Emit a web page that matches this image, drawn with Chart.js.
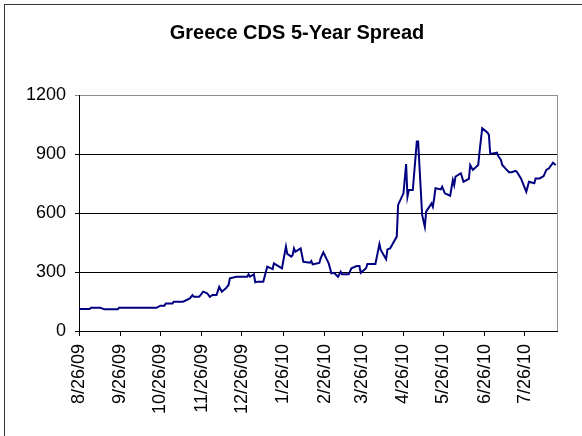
<!DOCTYPE html>
<html>
<head>
<meta charset="utf-8">
<script src="https://cdn.jsdelivr.net/npm/chart.js@4/dist/chart.umd.min.js"></script>
<style>
  html, body { margin: 0; padding: 0; background: #fff; }
  #wrap { position: relative; width: 582px; height: 436px; }
</style>
</head>
<body>
<div id="wrap"><canvas id="c" width="582" height="436"></canvas></div>
<script>
const chartTitle = "Greece CDS 5-Year Spread";
const dates = [
  "8/26/09","9/3/09","9/4/09","9/11/09","9/14/09","9/24/09","9/25/09","10/23/09","10/26/09","10/29/09",
  "10/30/09","11/4/09","11/5/09","11/12/09","11/17/09","11/19/09","11/20/09","11/24/09","11/27/09","11/30/09",
  "12/2/09","12/4/09","12/7/09","12/9/09","12/11/09","12/14/09","12/16/09","12/17/09","12/22/09","12/30/09",
  "12/31/09","1/1/10","1/4/10","1/5/10","1/7/10","1/11/10","1/14/10","1/18/10","1/19/10","1/25/10",
  "1/28/10","1/29/10","2/1/10","2/2/10","2/3/10","2/4/10","2/8/10","2/10/10","2/15/10","2/16/10",
  "2/17/10","2/22/10","2/23/10","2/25/10","3/1/10","3/3/10","3/5/10","3/8/10","3/10/10","3/11/10",
  "3/16/10","3/18/10","3/22/10","3/24/10","3/25/10","3/29/10","3/30/10","4/5/10","4/8/10","4/9/10",
  "4/13/10","4/14/10","4/16/10","4/21/10","4/22/10","4/26/10","4/28/10","4/29/10","4/30/10","5/3/10",
  "5/6/10","5/7/10","5/10/10","5/12/10","5/13/10","5/17/10","5/18/10","5/19/10","5/20/10","5/24/10",
  "5/25/10","5/27/10","5/31/10","6/2/10","6/3/10","6/4/10","6/8/10","6/10/10","6/14/10","6/15/10",
  "6/17/10","6/21/10","6/22/10","6/24/10","6/28/10","6/29/10","6/30/10","7/5/10","7/6/10","7/8/10",
  "7/9/10","7/12/10","7/14/10","7/16/10","7/19/10","7/20/10","7/23/10","7/27/10","7/29/10","8/2/10",
  "8/3/10","8/6/10","8/9/10","8/11/10","8/13/10","8/16/10","8/18/10"
];
const spread = [
  112,112,118,118,110,110,118,118,129,129,
  140,140,149,149,166,183,174,174,200,192,
  174,183,183,225,200,217,234,268,276,276,
  288,276,288,248,251,251,327,315,344,319,
  429,392,378,386,420,403,420,352,347,356,
  339,346,370,400,344,293,296,276,302,288,
  288,319,330,330,296,319,341,341,442,412,
  365,415,420,480,641,700,849,683,717,717,
  963,963,590,530,607,649,632,675,726,720,
  734,700,688,768,742,785,802,759,773,844,
  819,844,912,1031,1008,997,900,907,890,870,
  844,822,807,807,814,809,776,708,759,751,
  776,776,788,819,827,856,844
];
const xTickLabels = ["8/26/09","9/26/09","10/26/09","11/26/09","12/26/09","1/26/10","2/26/10","3/26/10","4/26/10","5/26/10","6/26/10","7/26/10"];
const xStart = "8/26/09";
const xEnd = "8/19/10";
const yTicks = [0, 300, 600, 900, 1200];

function dayOf(s) {
  const p = s.split('/').map(Number);
  const q = xStart.split('/').map(Number);
  return (Date.UTC(2000 + p[2], p[0] - 1, p[1]) - Date.UTC(2000 + q[2], q[0] - 1, q[1])) / 86400000;
}

const FONT = "'Liberation Sans', Arial, sans-serif";

const frame = {
  id: 'frame',
  beforeDraw(chart) {
    const ctx = chart.ctx;
    ctx.save();
    ctx.fillStyle = '#fff';
    ctx.fillRect(0, 0, chart.width, chart.height);
    ctx.strokeStyle = '#333';
    ctx.lineWidth = 1;
    ctx.strokeRect(4.5, 4.5, 600, 500);
    const a = chart.chartArea;
    ctx.strokeStyle = '#8c8c8c';
    ctx.beginPath();
    ctx.moveTo(Math.round(a.right) + 0.5, a.top);
    ctx.lineTo(Math.round(a.right) + 0.5, a.bottom);
    ctx.stroke();
    ctx.restore();
  }
};

new Chart(document.getElementById('c'), {
  type: 'line',
  data: {
    datasets: [{
      data: dates.map((d, i) => ({ x: dayOf(d), y: spread[i] })),
      borderColor: '#000080',
      borderWidth: 2,
      pointRadius: 0,
      tension: 0,
      fill: false
    }]
  },
  options: {
    responsive: false,
    animation: false,
    layout: { padding: { left: 12, right: 0, top: 0, bottom: 0 } },
    plugins: {
      legend: { display: false },
      tooltip: { enabled: false },
      title: {
        display: true,
        text: chartTitle,
        color: '#000',
        font: { family: FONT, size: 20, weight: 'bold' },
        padding: { top: 21, bottom: 50 }
      }
    },
    scales: {
      x: {
        type: 'linear',
        min: 0,
        max: dayOf(xEnd),
        afterBuildTicks: s => { s.ticks = xTickLabels.map(t => ({ value: dayOf(t) })); },
        afterFit: s => { s.height = 105; },
        ticks: {
          autoSkip: false,
          minRotation: 90,
          maxRotation: 90,
          padding: 8,
          color: '#000',
          font: { family: FONT, size: 18 },
          callback: (v, i) => xTickLabels[i]
        },
        grid: { drawOnChartArea: false, drawTicks: true, tickLength: 5, color: '#000' },
        border: { color: '#000', width: 1 }
      },
      y: {
        min: 0,
        max: 1200,
        afterBuildTicks: s => { s.ticks = yTicks.map(v => ({ value: v })); },
        afterFit: s => { s.width = 67; },
        ticks: {
          padding: 9,
          color: '#000',
          font: { family: FONT, size: 18 },
          callback: v => String(v)
        },
        grid: {
          color: c => (c.tick && c.tick.value === 1200) ? '#8c8c8c' : '#000',
          tickLength: 4
        },
        border: { color: '#000', width: 1 }
      },
      yRight: {
        position: 'right',
        display: true,
        min: 0,
        max: 1200,
        afterFit: s => { s.width = 25; },
        ticks: { display: false },
        grid: { display: false, drawTicks: false },
        border: { display: false }
      }
    }
  },
  plugins: [frame]
});
</script>
</body>
</html>
